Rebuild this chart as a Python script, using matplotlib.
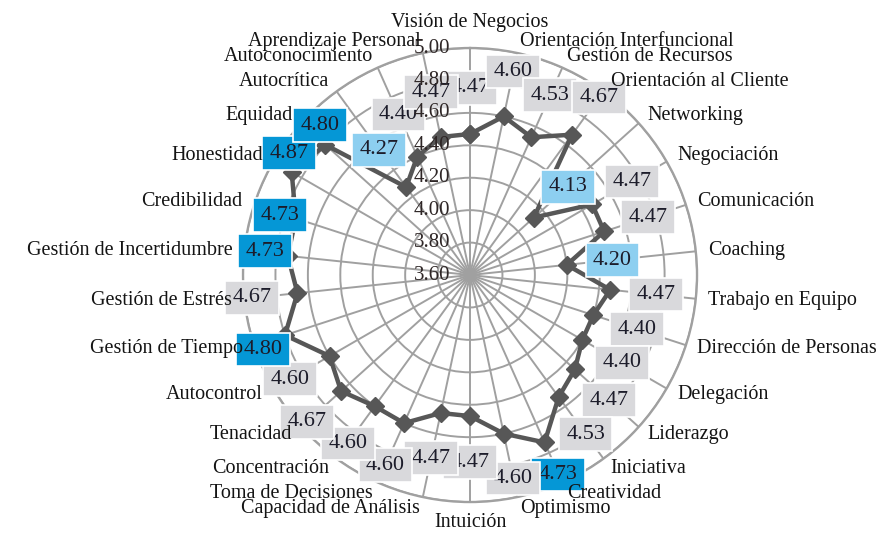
import numpy as np
import matplotlib
matplotlib.use("Agg")
import matplotlib.pyplot as plt

categories = [
    "Visión de Negocios", "Orientación Interfuncional", "Gestión de Recursos",
    "Orientación al Cliente", "Networking", "Negociación", "Comunicación",
    "Coaching", "Trabajo en Equipo", "Dirección de Personas", "Delegación",
    "Liderazgo", "Iniciativa", "Creatividad", "Optimismo", "Intuición",
    "Capacidad de Análisis", "Toma de Decisiones", "Concentración", "Tenacidad",
    "Autocontrol", "Gestión de Tiempo", "Gestión de Estrés",
    "Gestión de Incertidumbre", "Credibilidad", "Honestidad", "Equidad",
    "Autocrítica", "Autoconocimiento", "Aprendizaje Personal",
]
values = [
    4.47, 4.60, 4.53, 4.67, 4.13, 4.47, 4.47, 4.20, 4.47, 4.40,
    4.40, 4.47, 4.53, 4.73, 4.60, 4.47, 4.47, 4.60, 4.60, 4.67,
    4.60, 4.80, 4.67, 4.73, 4.73, 4.87, 4.80, 4.27, 4.40, 4.47,
]
r_ticks = [3.60, 3.80, 4.00, 4.20, 4.40, 4.60, 4.80, 5.00]
r_min, r_max = 3.60, 5.00

# label nudges in pixels (x right, y up), for labels moved inward
label_nudge_px = {
    "Gestión de Tiempo": (22, 0),
    "Gestión de Incertidumbre": (23, 0),
    "Credibilidad": (28, -11),
    "Honestidad": (37, -4),
    "Equidad": (29, -11),
    "Creatividad": (-5, 10),
}

GRID = "#a0a0a0"
LINE = "#575757"
GRAY_BOX = "#d9d9dc"
LIGHT_BLUE = "#8dcff0"
DARK_BLUE = "#0597d6"
TXT = "#1c1c2a"
SERIF = ["Liberation Serif", "DejaVu Serif"]

fig = plt.figure(figsize=(8.85, 5.33), dpi=100)
ax = fig.add_axes([0.2746, 0.0581, 0.513, 0.8518], projection="polar")
ax.set_theta_zero_location("N")
ax.set_theta_direction(-1)
ax.set_ylim(r_min, r_max)

n = len(categories)
theta = np.arange(n) * 2 * np.pi / n

ax.set_xticks(theta)
ax.set_xticklabels([])
ax.set_yticks(r_ticks)
ax.set_yticklabels([])
ax.tick_params(length=0)
ax.grid(True, color=GRID, linewidth=1.4)
ax.spines["polar"].set_color(GRID)
ax.spines["polar"].set_linewidth(1.7)
ax.set_facecolor("white")

th_closed = np.append(theta, theta[0])
v_closed = np.append(values, values[0])
ax.plot(th_closed, v_closed, color=LINE, linewidth=3.2, zorder=5,
        marker="D", markersize=9.5, markerfacecolor=LINE, markeredgecolor=LINE)

PT = 0.72  # points per pixel at 100 dpi

# data labels
for i, (t, v, c) in enumerate(zip(theta, values, categories)):
    if v >= 4.70:
        fc = DARK_BLUE
    elif v <= 4.30:
        fc = LIGHT_BLUE
    else:
        fc = GRAY_BOX
    off = 46
    nx, ny = label_nudge_px.get(c, (0, 0))
    dx = (off * np.sin(t) + nx) * PT
    dy = (off * np.cos(t) + ny) * PT
    ax.annotate(f"{v:.2f}", xy=(t, v), xytext=(dx, dy), textcoords="offset points",
                ha="center", va="center", fontsize=16, family=SERIF, color=TXT,
                zorder=10 + i, annotation_clip=False,
                bbox=dict(boxstyle="square,pad=0.33", fc=fc, ec="white", lw=1.2))

# radial axis labels
for r in r_ticks:
    ax.annotate(f"{r:.2f}", xy=(0, r), xytext=(-20 * PT, 0), textcoords="offset points",
                ha="right", va="center", fontsize=15, family=SERIF, color="#2e2626",
                zorder=60, annotation_clip=False)

# category labels
for t, c in zip(theta, categories):
    s, co = np.sin(t), np.cos(t)
    if s > 0.01:
        ha = "left"
    elif s < -0.01:
        ha = "right"
    else:
        ha = "center"
    va = "center"
    off = 12
    if abs(s) < 0.01:
        va = "bottom" if co > 0 else "top"
        off = 16 if co > 0 else 11
    ax.annotate(c, xy=(t, r_max), xytext=(off * s * PT, off * co * PT),
                textcoords="offset points", ha=ha, va=va, fontsize=14.5,
                family=SERIF, color="#141414", zorder=70, annotation_clip=False)

fig.savefig("out.png", dpi=100, facecolor="white")
